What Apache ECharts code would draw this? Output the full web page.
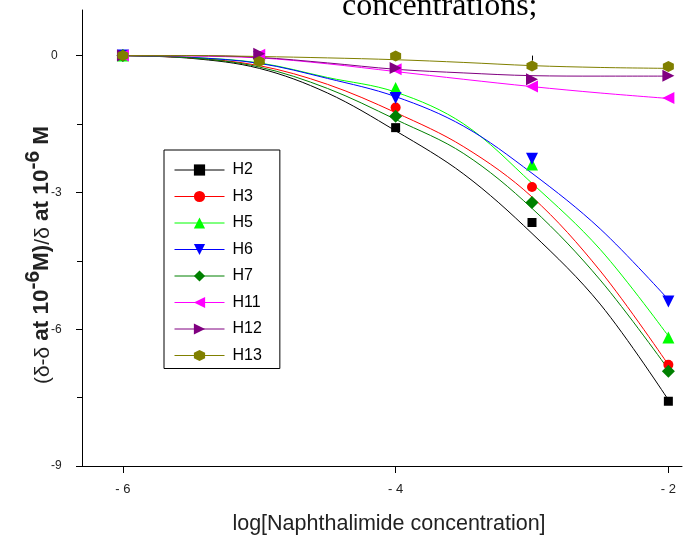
<!DOCTYPE html>
<html>
<head>
<meta charset="utf-8">
<script src="https://cdn.jsdelivr.net/npm/echarts@6/dist/echarts.min.js"></script>
<style>
  html, body { margin: 0; padding: 0; background: #fff; }
  #chart { width: 683px; height: 535px; }
</style>
</head>
<body>
<div id="chart"></div>
<script>
// Measured points: log concentration vs relative shift change
const xPoints = [-6, -5, -4, -3, -2];
const H2 = [0, -0.08, -1.58, -3.66, -7.58];
const H3 = [0, -0.05, -1.14, -2.88, -6.78];
const H5 = [0, -0.05, -0.71, -2.39, -6.18];
const H6 = [0, -0.03, -0.93, -2.26, -5.39];
const H7 = [0, -0.06, -1.33, -3.22, -6.92];
const H11 = [0, 0.02, -0.30, -0.68, -0.93];
const H12 = [0, 0.04, -0.27, -0.52, -0.44];
const H13 = [0, -0.13, -0.01, -0.23, -0.24];

// Fitted trend curves, sampled every half decade
const xFit = [-6, -5.5, -5, -4.5, -4, -3.5, -3, -2.5, -2];
const H2fit = [0, -0.06, -0.28, -0.82, -1.65, -2.6, -3.9, -5.45, -7.55];
const H3fit = [0, -0.05, -0.22, -0.63, -1.25, -2.0, -3.1, -4.72, -6.78];
const H5fit = [0, -0.04, -0.16, -0.48, -0.8, -1.5, -2.8, -4.25, -6.15];
const H6fit = [0, -0.04, -0.17, -0.5, -0.9, -1.55, -2.58, -3.8, -5.35];
const H7fit = [0, -0.05, -0.25, -0.72, -1.4, -2.15, -3.35, -4.92, -6.88];
const H11fit = [0, -0.01, -0.05, -0.18, -0.35, -0.52, -0.68, -0.82, -0.94];
const H12fit = [0, 0, -0.04, -0.16, -0.3, -0.38, -0.44, -0.45, -0.45];
const H13fit = [0, 0, -0.02, -0.05, -0.09, -0.15, -0.22, -0.26, -0.28];

const names = ['H2', 'H3', 'H5', 'H6', 'H7', 'H11', 'H12', 'H13'];
const xTickLabels = [-6, -4, -2];
const xMinorTicks = [-5, -3];
const yTickLabels = [0, -3, -6, -9];
const yMinorTicks = [-1.5, -4.5, -7.5];

const pointSets = [H2, H3, H5, H6, H7, H11, H12, H13];
const fitSets = [H2fit, H3fit, H5fit, H6fit, H7fit, H11fit, H12fit, H13fit];
const colors = ['#000000', '#ff0000', '#00ff00', '#0000ff', '#008000', '#ff00ff', '#800080', '#808000'];
const hexagon = 'path://M5,0 L9.33,2.5 L9.33,7.5 L5,10 L0.67,7.5 L0.67,2.5 Z';
const markers = [
  { symbol: 'rect', size: 9, rotate: 0 },
  { symbol: 'circle', size: 10, rotate: 0 },
  { symbol: 'triangle', size: 12, rotate: 0 },
  { symbol: 'triangle', size: 12, rotate: 180 },
  { symbol: 'diamond', size: 13, rotate: 0 },
  { symbol: 'triangle', size: 12, rotate: 90 },
  { symbol: 'triangle', size: 12, rotate: -90 },
  { symbol: hexagon, size: 11, rotate: 0 }
];

const series = [];
names.forEach((name, i) => {
  series.push({
    name: name + ' fit',
    type: 'line',
    data: xFit.map((x, k) => [x, fitSets[i][k]]),
    smooth: 0.35,
    showSymbol: false,
    silent: true,
    z: 2,
    lineStyle: { color: colors[i], width: 1 },
    emphasis: { disabled: true }
  });
});
names.forEach((name, i) => {
  series.push({
    name: name,
    type: 'line',
    data: xPoints.map((x, k) => [x, pointSets[i][k]]),
    symbol: markers[i].symbol,
    symbolSize: markers[i].size,
    symbolRotate: markers[i].rotate,
    showSymbol: true,
    z: 3,
    itemStyle: { color: colors[i] },
    lineStyle: { color: colors[i], width: 0, opacity: 0 },
    emphasis: { disabled: true }
  });
});

const axisFont = 'Liberation Sans, Arial, sans-serif';
const gridBox = { left: 82, right: 1, top: 10, bottom: 69, outerBoundsMode: 'none', containLabel: false };
// tick labels use a spaced minus sign
const spacedMinus = v => (v < 0 ? '- ' + Math.abs(v) : String(v));

const chart = echarts.init(document.getElementById('chart'), null, { renderer: 'canvas' });
chart.setOption({
  animation: false,
  backgroundColor: '#ffffff',
  grid: [Object.assign({}, gridBox), Object.assign({}, gridBox)],
  xAxis: [
    {
      type: 'value', gridIndex: 0, min: -6.3, max: -1.9,
      axisLine: { show: true, onZero: false, lineStyle: { color: '#000', width: 1 } },
      axisTick: { show: true, customValues: xTickLabels, length: 7, lineStyle: { color: '#000' } },
      axisLabel: { customValues: xTickLabels, margin: 17, fontFamily: axisFont, fontSize: 13, color: '#222', formatter: spacedMinus },
      splitLine: { show: false },
      name: 'log[Naphthalimide concentration]',
      nameLocation: 'middle', nameGap: 47,
      nameTextStyle: { fontFamily: axisFont, fontSize: 21.5, color: '#222', padding: [0, 0, 0, 14] }
    },
    {
      type: 'value', gridIndex: 1, min: -6.3, max: -1.9,
      axisLine: { show: false },
      axisTick: { show: true, customValues: xMinorTicks, length: 5, lineStyle: { color: '#000' } },
      axisLabel: { show: false },
      splitLine: { show: false }
    }
  ],
  yAxis: [
    {
      type: 'value', gridIndex: 0, min: -9, max: 1,
      axisLine: { show: true, onZero: false, lineStyle: { color: '#000', width: 1 } },
      axisTick: { show: true, customValues: yTickLabels, length: 6, lineStyle: { color: '#000' } },
      axisLabel: { customValues: yTickLabels, margin: 31, align: 'left', fontFamily: axisFont, fontSize: 12, color: '#222' },
      splitLine: { show: false }
    },
    {
      type: 'value', gridIndex: 1, min: -9, max: 1,
      axisLine: { show: false },
      axisTick: { show: true, customValues: yMinorTicks, length: 5, lineStyle: { color: '#000' } },
      axisLabel: { show: false },
      splitLine: { show: false }
    }
  ],
  legend: {
    orient: 'vertical',
    left: 164, top: 150,
    padding: [12, 18, 5, 10],
    itemWidth: 50, itemHeight: 14, itemGap: 10.5,
    borderColor: '#000', borderWidth: 1,
    textStyle: { fontFamily: axisFont, fontSize: 16, color: '#000', padding: [0, 0, 0, 3] },
    lineStyle: { width: 1, opacity: 1 },
    data: names
  },
  graphic: [
    {
      type: 'text', x: 342, y: 7,
      style: { text: 'concentrations;', font: '32px "Liberation Serif", "Times New Roman", serif', fill: '#000', align: 'left', verticalAlign: 'middle' }
    },
    {
      type: 'text', x: 38, y: 255, rotation: Math.PI / 2,
      style: {
        text: '{r|(δ-δ }{b|at 10}{s|-6}{b|M)}{r|/δ}{b| at 10}{s|-6}{b| M}',
        align: 'center', verticalAlign: 'middle', fill: '#222',
        rich: {
          r: { fontFamily: axisFont, fontSize: 21, lineHeight: 22, verticalAlign: 'bottom', fill: '#222' },
          b: { fontFamily: axisFont, fontSize: 22.5, fontWeight: 'bold', lineHeight: 22, verticalAlign: 'bottom', fill: '#222' },
          s: { fontFamily: axisFont, fontSize: 21, fontWeight: 'bold', lineHeight: 31, verticalAlign: 'top', fill: '#222' }
        }
      }
    }
  ],
  series: series
});
</script>
</body>
</html>
